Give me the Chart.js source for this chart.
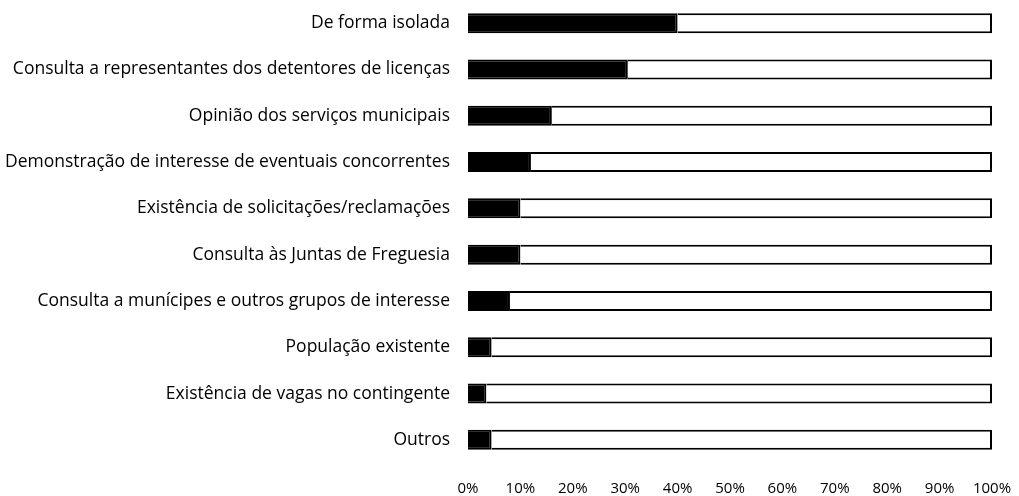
<!DOCTYPE html>
<html>
<head>
<meta charset="utf-8">
<script src="https://cdn.jsdelivr.net/npm/chart.js@4/dist/chart.umd.min.js"></script>
<style>
html,body{margin:0;padding:0;background:#fff;}
#wrap{width:1019px;height:496px;}
</style>
</head>
<body>
<div id="wrap"><canvas id="c" width="1019" height="496"></canvas></div>
<script>
const categories = [
  "De forma isolada",
  "Consulta a representantes dos detentores de licenças",
  "Opinião dos serviços municipais",
  "Demonstração de interesse de eventuais concorrentes",
  "Existência de solicitações/reclamações",
  "Consulta às Juntas de Freguesia",
  "Consulta a munícipes e outros grupos de interesse",
  "População existente",
  "Existência de vagas no contingente",
  "Outros"
];
const yesValues = [40, 30.5, 16, 12, 10, 10, 8, 4.5, 3.5, 4.5];
const noValues  = [60, 69.5, 84, 88, 90, 90, 92, 95.5, 96.5, 95.5];
const tickValues = [0, 10, 20, 30, 40, 50, 60, 70, 80, 90, 100];

new Chart(document.getElementById('c'), {
  type: 'bar',
  data: {
    labels: categories,
    datasets: [
      {data: yesValues, backgroundColor: '#000', borderColor: '#000', borderWidth: 2, barPercentage: 0.9, categoryPercentage: 0.48},
      {data: noValues, backgroundColor: '#fff', borderColor: '#000', borderWidth: 2, barPercentage: 0.9, categoryPercentage: 0.48}
    ]
  },
  options: {
    indexAxis: 'y',
    responsive: false,
    animation: false,
    devicePixelRatio: 1,
    layout: {padding: {top: 0, right: 27, bottom: 0, left: 0}},
    plugins: {legend: {display: false}, tooltip: {enabled: false}},
    scales: {
      x: {
        stacked: true, min: 0, max: 100,
        afterBuildTicks: (s) => { s.ticks = tickValues.map(v => ({value: v})); },
        afterFit: (s) => { s.height = 33; s.paddingLeft = 0; s.paddingRight = 0; },
        grid: {display: false, drawTicks: false},
        border: {display: false},
        ticks: {
          color: '#000', padding: 17,
          font: {family: 'Open Sans', size: 15},
          callback: (v) => v + '%'
        }
      },
      y: {
        stacked: true,
        grid: {display: false, drawTicks: false},
        border: {display: false},
        afterFit: (s) => { s.width = 468; s.paddingTop = 0; s.paddingBottom = 0; },
        ticks: {
          color: '#000', padding: 18,
          font: {family: 'Open Sans', size: 17.5}
        }
      }
    }
  }
});
</script>
</body>
</html>
